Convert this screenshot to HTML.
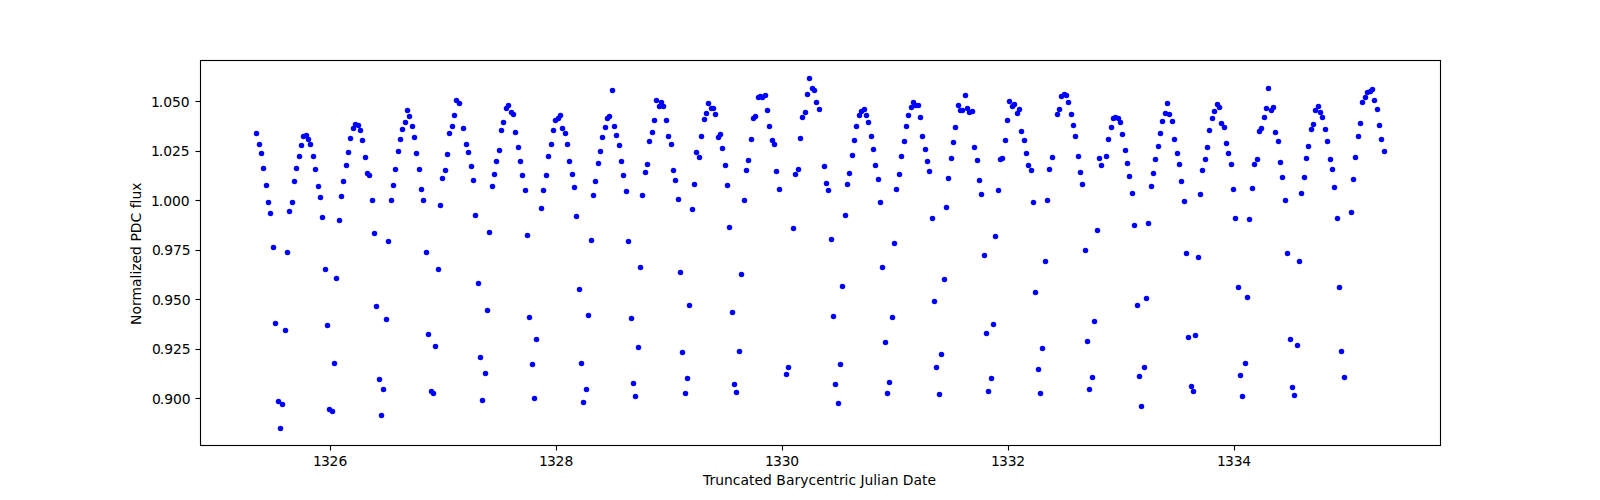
<!DOCTYPE html>
<html lang="en"><head><meta charset="utf-8"><title>Light curve</title>
<style>html,body{margin:0;padding:0;background:#fff;}body{width:1600px;height:500px;overflow:hidden;}</style></head>
<body>
<svg width="1600" height="500" viewBox="0 0 1600 500" style="display:block">
<rect width="1600" height="500" fill="#fff"/>
<g fill="#0000ff"><circle cx="256.5" cy="133.5" r="2.74"/><circle cx="259.5" cy="144.5" r="2.74"/><circle cx="261.5" cy="153.5" r="2.74"/><circle cx="263.5" cy="168.5" r="2.74"/><circle cx="266.5" cy="185.5" r="2.74"/><circle cx="268.5" cy="202.5" r="2.74"/><circle cx="270.5" cy="213.5" r="2.74"/><circle cx="273.5" cy="247.5" r="2.74"/><circle cx="275.5" cy="323.5" r="2.74"/><circle cx="278.5" cy="401.5" r="2.74"/><circle cx="280.5" cy="428.5" r="2.74"/><circle cx="282.5" cy="404.5" r="2.74"/><circle cx="285.5" cy="330.5" r="2.74"/><circle cx="287.5" cy="252.5" r="2.74"/><circle cx="289.5" cy="211.5" r="2.74"/><circle cx="292.5" cy="202.5" r="2.74"/><circle cx="294.5" cy="181.5" r="2.74"/><circle cx="296.5" cy="168.5" r="2.74"/><circle cx="299.5" cy="156.5" r="2.74"/><circle cx="301.5" cy="145.5" r="2.74"/><circle cx="303.5" cy="136.5" r="2.74"/><circle cx="306.5" cy="135.5" r="2.74"/><circle cx="308.5" cy="139.5" r="2.74"/><circle cx="310.5" cy="144.5" r="2.74"/><circle cx="313.5" cy="156.5" r="2.74"/><circle cx="315.5" cy="169.5" r="2.74"/><circle cx="318.5" cy="186.5" r="2.74"/><circle cx="320.5" cy="197.5" r="2.74"/><circle cx="322.5" cy="217.5" r="2.74"/><circle cx="325.5" cy="269.5" r="2.74"/><circle cx="327.5" cy="325.5" r="2.74"/><circle cx="329.5" cy="409.5" r="2.74"/><circle cx="332.5" cy="411.5" r="2.74"/><circle cx="334.5" cy="363.5" r="2.74"/><circle cx="336.5" cy="278.5" r="2.74"/><circle cx="339.5" cy="220.5" r="2.74"/><circle cx="341.5" cy="196.5" r="2.74"/><circle cx="343.5" cy="181.5" r="2.74"/><circle cx="346.5" cy="165.5" r="2.74"/><circle cx="348.5" cy="152.5" r="2.74"/><circle cx="350.5" cy="138.5" r="2.74"/><circle cx="353.5" cy="128.5" r="2.74"/><circle cx="355.5" cy="124.5" r="2.74"/><circle cx="358.5" cy="125.5" r="2.74"/><circle cx="360.5" cy="130.5" r="2.74"/><circle cx="362.5" cy="140.5" r="2.74"/><circle cx="365.5" cy="157.5" r="2.74"/><circle cx="367.5" cy="173.5" r="2.74"/><circle cx="369.5" cy="175.5" r="2.74"/><circle cx="372.5" cy="200.5" r="2.74"/><circle cx="374.5" cy="233.5" r="2.74"/><circle cx="376.5" cy="306.5" r="2.74"/><circle cx="379.5" cy="379.5" r="2.74"/><circle cx="381.5" cy="415.5" r="2.74"/><circle cx="383.5" cy="389.5" r="2.74"/><circle cx="386.5" cy="319.5" r="2.74"/><circle cx="388.5" cy="241.5" r="2.74"/><circle cx="391.5" cy="200.5" r="2.74"/><circle cx="393.5" cy="185.5" r="2.74"/><circle cx="395.5" cy="169.5" r="2.74"/><circle cx="398.5" cy="151.5" r="2.74"/><circle cx="400.5" cy="139.5" r="2.74"/><circle cx="402.5" cy="129.5" r="2.74"/><circle cx="405.5" cy="122.5" r="2.74"/><circle cx="407.5" cy="110.5" r="2.74"/><circle cx="409.5" cy="116.5" r="2.74"/><circle cx="412.5" cy="126.5" r="2.74"/><circle cx="414.5" cy="137.5" r="2.74"/><circle cx="416.5" cy="153.5" r="2.74"/><circle cx="419.5" cy="169.5" r="2.74"/><circle cx="421.5" cy="189.5" r="2.74"/><circle cx="423.5" cy="200.5" r="2.74"/><circle cx="426.5" cy="252.5" r="2.74"/><circle cx="428.5" cy="334.5" r="2.74"/><circle cx="431.5" cy="391.5" r="2.74"/><circle cx="433.5" cy="393.5" r="2.74"/><circle cx="435.5" cy="346.5" r="2.74"/><circle cx="438.5" cy="269.5" r="2.74"/><circle cx="440.5" cy="205.5" r="2.74"/><circle cx="442.5" cy="178.5" r="2.74"/><circle cx="445.5" cy="170.5" r="2.74"/><circle cx="447.5" cy="154.5" r="2.74"/><circle cx="449.5" cy="133.5" r="2.74"/><circle cx="452.5" cy="126.5" r="2.74"/><circle cx="454.5" cy="115.5" r="2.74"/><circle cx="456.5" cy="100.5" r="2.74"/><circle cx="459.5" cy="103.5" r="2.74"/><circle cx="463.5" cy="128.5" r="2.74"/><circle cx="466.5" cy="144.5" r="2.74"/><circle cx="468.5" cy="152.5" r="2.74"/><circle cx="471.5" cy="166.5" r="2.74"/><circle cx="473.5" cy="180.5" r="2.74"/><circle cx="475.5" cy="215.5" r="2.74"/><circle cx="478.5" cy="283.5" r="2.74"/><circle cx="480.5" cy="357.5" r="2.74"/><circle cx="482.5" cy="400.5" r="2.74"/><circle cx="485.5" cy="373.5" r="2.74"/><circle cx="487.5" cy="310.5" r="2.74"/><circle cx="489.5" cy="232.5" r="2.74"/><circle cx="492.5" cy="186.5" r="2.74"/><circle cx="494.5" cy="174.5" r="2.74"/><circle cx="496.5" cy="161.5" r="2.74"/><circle cx="499.5" cy="150.5" r="2.74"/><circle cx="501.5" cy="130.5" r="2.74"/><circle cx="503.5" cy="122.5" r="2.74"/><circle cx="506.5" cy="108.5" r="2.74"/><circle cx="508.5" cy="105.5" r="2.74"/><circle cx="511.5" cy="112.5" r="2.74"/><circle cx="513.5" cy="114.5" r="2.74"/><circle cx="515.5" cy="132.5" r="2.74"/><circle cx="518.5" cy="147.5" r="2.74"/><circle cx="520.5" cy="161.5" r="2.74"/><circle cx="522.5" cy="175.5" r="2.74"/><circle cx="525.5" cy="190.5" r="2.74"/><circle cx="527.5" cy="235.5" r="2.74"/><circle cx="529.5" cy="317.5" r="2.74"/><circle cx="532.5" cy="364.5" r="2.74"/><circle cx="534.5" cy="398.5" r="2.74"/><circle cx="536.5" cy="339.5" r="2.74"/><circle cx="541.5" cy="208.5" r="2.74"/><circle cx="543.5" cy="190.5" r="2.74"/><circle cx="546.5" cy="175.5" r="2.74"/><circle cx="548.5" cy="156.5" r="2.74"/><circle cx="551.5" cy="144.5" r="2.74"/><circle cx="553.5" cy="130.5" r="2.74"/><circle cx="555.5" cy="120.5" r="2.74"/><circle cx="558.5" cy="118.5" r="2.74"/><circle cx="560.5" cy="115.5" r="2.74"/><circle cx="562.5" cy="128.5" r="2.74"/><circle cx="565.5" cy="133.5" r="2.74"/><circle cx="567.5" cy="144.5" r="2.74"/><circle cx="569.5" cy="161.5" r="2.74"/><circle cx="572.5" cy="174.5" r="2.74"/><circle cx="574.5" cy="187.5" r="2.74"/><circle cx="576.5" cy="216.5" r="2.74"/><circle cx="579.5" cy="289.5" r="2.74"/><circle cx="581.5" cy="363.5" r="2.74"/><circle cx="583.5" cy="402.5" r="2.74"/><circle cx="586.5" cy="389.5" r="2.74"/><circle cx="588.5" cy="315.5" r="2.74"/><circle cx="591.5" cy="240.5" r="2.74"/><circle cx="593.5" cy="195.5" r="2.74"/><circle cx="595.5" cy="181.5" r="2.74"/><circle cx="598.5" cy="163.5" r="2.74"/><circle cx="600.5" cy="151.5" r="2.74"/><circle cx="602.5" cy="137.5" r="2.74"/><circle cx="605.5" cy="127.5" r="2.74"/><circle cx="607.5" cy="118.5" r="2.74"/><circle cx="609.5" cy="116.5" r="2.74"/><circle cx="612.5" cy="90.5" r="2.74"/><circle cx="614.5" cy="126.5" r="2.74"/><circle cx="616.5" cy="135.5" r="2.74"/><circle cx="619.5" cy="145.5" r="2.74"/><circle cx="621.5" cy="161.5" r="2.74"/><circle cx="623.5" cy="175.5" r="2.74"/><circle cx="626.5" cy="191.5" r="2.74"/><circle cx="628.5" cy="241.5" r="2.74"/><circle cx="631.5" cy="318.5" r="2.74"/><circle cx="633.5" cy="383.5" r="2.74"/><circle cx="635.5" cy="396.5" r="2.74"/><circle cx="638.5" cy="347.5" r="2.74"/><circle cx="640.5" cy="267.5" r="2.74"/><circle cx="642.5" cy="195.5" r="2.74"/><circle cx="645.5" cy="172.5" r="2.74"/><circle cx="647.5" cy="164.5" r="2.74"/><circle cx="649.5" cy="141.5" r="2.74"/><circle cx="652.5" cy="132.5" r="2.74"/><circle cx="654.5" cy="120.5" r="2.74"/><circle cx="656.5" cy="100.5" r="2.74"/><circle cx="659.5" cy="106.5" r="2.74"/><circle cx="661.5" cy="102.5" r="2.74"/><circle cx="663.5" cy="106.5" r="2.74"/><circle cx="666.5" cy="120.5" r="2.74"/><circle cx="668.5" cy="136.5" r="2.74"/><circle cx="671.5" cy="144.5" r="2.74"/><circle cx="673.5" cy="170.5" r="2.74"/><circle cx="675.5" cy="180.5" r="2.74"/><circle cx="678.5" cy="199.5" r="2.74"/><circle cx="680.5" cy="272.5" r="2.74"/><circle cx="682.5" cy="352.5" r="2.74"/><circle cx="685.5" cy="393.5" r="2.74"/><circle cx="687.5" cy="378.5" r="2.74"/><circle cx="689.5" cy="305.5" r="2.74"/><circle cx="692.5" cy="209.5" r="2.74"/><circle cx="694.5" cy="184.5" r="2.74"/><circle cx="696.5" cy="152.5" r="2.74"/><circle cx="699.5" cy="157.5" r="2.74"/><circle cx="701.5" cy="136.5" r="2.74"/><circle cx="704.5" cy="119.5" r="2.74"/><circle cx="706.5" cy="113.5" r="2.74"/><circle cx="708.5" cy="103.5" r="2.74"/><circle cx="711.5" cy="108.5" r="2.74"/><circle cx="713.5" cy="108.5" r="2.74"/><circle cx="715.5" cy="114.5" r="2.74"/><circle cx="718.5" cy="137.5" r="2.74"/><circle cx="720.5" cy="134.5" r="2.74"/><circle cx="722.5" cy="148.5" r="2.74"/><circle cx="725.5" cy="165.5" r="2.74"/><circle cx="727.5" cy="185.5" r="2.74"/><circle cx="729.5" cy="227.5" r="2.74"/><circle cx="732.5" cy="312.5" r="2.74"/><circle cx="734.5" cy="384.5" r="2.74"/><circle cx="736.5" cy="392.5" r="2.74"/><circle cx="739.5" cy="351.5" r="2.74"/><circle cx="741.5" cy="274.5" r="2.74"/><circle cx="744.5" cy="200.5" r="2.74"/><circle cx="746.5" cy="170.5" r="2.74"/><circle cx="748.5" cy="160.5" r="2.74"/><circle cx="751.5" cy="139.5" r="2.74"/><circle cx="753.5" cy="118.5" r="2.74"/><circle cx="755.5" cy="116.5" r="2.74"/><circle cx="758.5" cy="97.5" r="2.74"/><circle cx="760.5" cy="96.5" r="2.74"/><circle cx="762.5" cy="97.5" r="2.74"/><circle cx="765.5" cy="95.5" r="2.74"/><circle cx="767.5" cy="110.5" r="2.74"/><circle cx="769.5" cy="126.5" r="2.74"/><circle cx="772.5" cy="140.5" r="2.74"/><circle cx="774.5" cy="144.5" r="2.74"/><circle cx="776.5" cy="171.5" r="2.74"/><circle cx="779.5" cy="189.5" r="2.74"/><circle cx="786.5" cy="374.5" r="2.74"/><circle cx="788.5" cy="367.5" r="2.74"/><circle cx="793.5" cy="228.5" r="2.74"/><circle cx="795.5" cy="174.5" r="2.74"/><circle cx="798.5" cy="169.5" r="2.74"/><circle cx="800.5" cy="138.5" r="2.74"/><circle cx="802.5" cy="117.5" r="2.74"/><circle cx="805.5" cy="112.5" r="2.74"/><circle cx="807.5" cy="94.5" r="2.74"/><circle cx="809.5" cy="78.5" r="2.74"/><circle cx="812.5" cy="88.5" r="2.74"/><circle cx="814.5" cy="90.5" r="2.74"/><circle cx="816.5" cy="102.5" r="2.74"/><circle cx="819.5" cy="109.5" r="2.74"/><circle cx="824.5" cy="166.5" r="2.74"/><circle cx="826.5" cy="183.5" r="2.74"/><circle cx="828.5" cy="190.5" r="2.74"/><circle cx="831.5" cy="239.5" r="2.74"/><circle cx="833.5" cy="316.5" r="2.74"/><circle cx="835.5" cy="384.5" r="2.74"/><circle cx="838.5" cy="403.5" r="2.74"/><circle cx="840.5" cy="364.5" r="2.74"/><circle cx="842.5" cy="286.5" r="2.74"/><circle cx="845.5" cy="215.5" r="2.74"/><circle cx="847.5" cy="184.5" r="2.74"/><circle cx="849.5" cy="173.5" r="2.74"/><circle cx="852.5" cy="155.5" r="2.74"/><circle cx="854.5" cy="140.5" r="2.74"/><circle cx="856.5" cy="126.5" r="2.74"/><circle cx="859.5" cy="115.5" r="2.74"/><circle cx="861.5" cy="111.5" r="2.74"/><circle cx="864.5" cy="109.5" r="2.74"/><circle cx="866.5" cy="115.5" r="2.74"/><circle cx="868.5" cy="122.5" r="2.74"/><circle cx="871.5" cy="136.5" r="2.74"/><circle cx="873.5" cy="149.5" r="2.74"/><circle cx="875.5" cy="165.5" r="2.74"/><circle cx="878.5" cy="179.5" r="2.74"/><circle cx="880.5" cy="202.5" r="2.74"/><circle cx="882.5" cy="267.5" r="2.74"/><circle cx="885.5" cy="342.5" r="2.74"/><circle cx="887.5" cy="393.5" r="2.74"/><circle cx="889.5" cy="382.5" r="2.74"/><circle cx="892.5" cy="317.5" r="2.74"/><circle cx="894.5" cy="243.5" r="2.74"/><circle cx="896.5" cy="189.5" r="2.74"/><circle cx="899.5" cy="174.5" r="2.74"/><circle cx="901.5" cy="156.5" r="2.74"/><circle cx="904.5" cy="141.5" r="2.74"/><circle cx="906.5" cy="126.5" r="2.74"/><circle cx="908.5" cy="115.5" r="2.74"/><circle cx="911.5" cy="107.5" r="2.74"/><circle cx="913.5" cy="102.5" r="2.74"/><circle cx="915.5" cy="105.5" r="2.74"/><circle cx="918.5" cy="105.5" r="2.74"/><circle cx="920.5" cy="117.5" r="2.74"/><circle cx="922.5" cy="136.5" r="2.74"/><circle cx="925.5" cy="149.5" r="2.74"/><circle cx="927.5" cy="161.5" r="2.74"/><circle cx="929.5" cy="171.5" r="2.74"/><circle cx="932.5" cy="218.5" r="2.74"/><circle cx="934.5" cy="301.5" r="2.74"/><circle cx="936.5" cy="367.5" r="2.74"/><circle cx="939.5" cy="394.5" r="2.74"/><circle cx="941.5" cy="354.5" r="2.74"/><circle cx="944.5" cy="279.5" r="2.74"/><circle cx="946.5" cy="207.5" r="2.74"/><circle cx="948.5" cy="178.5" r="2.74"/><circle cx="951.5" cy="158.5" r="2.74"/><circle cx="953.5" cy="142.5" r="2.74"/><circle cx="955.5" cy="127.5" r="2.74"/><circle cx="958.5" cy="105.5" r="2.74"/><circle cx="960.5" cy="110.5" r="2.74"/><circle cx="962.5" cy="110.5" r="2.74"/><circle cx="965.5" cy="95.5" r="2.74"/><circle cx="967.5" cy="108.5" r="2.74"/><circle cx="969.5" cy="112.5" r="2.74"/><circle cx="972.5" cy="111.5" r="2.74"/><circle cx="974.5" cy="147.5" r="2.74"/><circle cx="977.5" cy="160.5" r="2.74"/><circle cx="979.5" cy="180.5" r="2.74"/><circle cx="981.5" cy="194.5" r="2.74"/><circle cx="984.5" cy="255.5" r="2.74"/><circle cx="986.5" cy="333.5" r="2.74"/><circle cx="988.5" cy="391.5" r="2.74"/><circle cx="991.5" cy="378.5" r="2.74"/><circle cx="993.5" cy="324.5" r="2.74"/><circle cx="995.5" cy="236.5" r="2.74"/><circle cx="998.5" cy="190.5" r="2.74"/><circle cx="1000.5" cy="159.5" r="2.74"/><circle cx="1002.5" cy="158.5" r="2.74"/><circle cx="1005.5" cy="140.5" r="2.74"/><circle cx="1007.5" cy="120.5" r="2.74"/><circle cx="1009.5" cy="101.5" r="2.74"/><circle cx="1012.5" cy="106.5" r="2.74"/><circle cx="1014.5" cy="104.5" r="2.74"/><circle cx="1017.5" cy="113.5" r="2.74"/><circle cx="1019.5" cy="109.5" r="2.74"/><circle cx="1021.5" cy="131.5" r="2.74"/><circle cx="1024.5" cy="140.5" r="2.74"/><circle cx="1026.5" cy="153.5" r="2.74"/><circle cx="1028.5" cy="165.5" r="2.74"/><circle cx="1031.5" cy="170.5" r="2.74"/><circle cx="1033.5" cy="202.5" r="2.74"/><circle cx="1035.5" cy="292.5" r="2.74"/><circle cx="1038.5" cy="369.5" r="2.74"/><circle cx="1040.5" cy="393.5" r="2.74"/><circle cx="1042.5" cy="348.5" r="2.74"/><circle cx="1045.5" cy="261.5" r="2.74"/><circle cx="1047.5" cy="200.5" r="2.74"/><circle cx="1049.5" cy="169.5" r="2.74"/><circle cx="1052.5" cy="157.5" r="2.74"/><circle cx="1057.5" cy="114.5" r="2.74"/><circle cx="1059.5" cy="109.5" r="2.74"/><circle cx="1061.5" cy="96.5" r="2.74"/><circle cx="1064.5" cy="94.5" r="2.74"/><circle cx="1066.5" cy="95.5" r="2.74"/><circle cx="1068.5" cy="102.5" r="2.74"/><circle cx="1071.5" cy="114.5" r="2.74"/><circle cx="1073.5" cy="125.5" r="2.74"/><circle cx="1075.5" cy="136.5" r="2.74"/><circle cx="1078.5" cy="156.5" r="2.74"/><circle cx="1080.5" cy="172.5" r="2.74"/><circle cx="1082.5" cy="184.5" r="2.74"/><circle cx="1085.5" cy="250.5" r="2.74"/><circle cx="1087.5" cy="341.5" r="2.74"/><circle cx="1089.5" cy="389.5" r="2.74"/><circle cx="1092.5" cy="377.5" r="2.74"/><circle cx="1094.5" cy="321.5" r="2.74"/><circle cx="1097.5" cy="230.5" r="2.74"/><circle cx="1099.5" cy="158.5" r="2.74"/><circle cx="1101.5" cy="165.5" r="2.74"/><circle cx="1106.5" cy="156.5" r="2.74"/><circle cx="1108.5" cy="139.5" r="2.74"/><circle cx="1111.5" cy="127.5" r="2.74"/><circle cx="1113.5" cy="118.5" r="2.74"/><circle cx="1115.5" cy="117.5" r="2.74"/><circle cx="1118.5" cy="118.5" r="2.74"/><circle cx="1120.5" cy="122.5" r="2.74"/><circle cx="1122.5" cy="134.5" r="2.74"/><circle cx="1125.5" cy="150.5" r="2.74"/><circle cx="1127.5" cy="163.5" r="2.74"/><circle cx="1129.5" cy="176.5" r="2.74"/><circle cx="1132.5" cy="193.5" r="2.74"/><circle cx="1134.5" cy="225.5" r="2.74"/><circle cx="1137.5" cy="305.5" r="2.74"/><circle cx="1139.5" cy="376.5" r="2.74"/><circle cx="1141.5" cy="406.5" r="2.74"/><circle cx="1144.5" cy="367.5" r="2.74"/><circle cx="1146.5" cy="298.5" r="2.74"/><circle cx="1148.5" cy="223.5" r="2.74"/><circle cx="1151.5" cy="186.5" r="2.74"/><circle cx="1153.5" cy="173.5" r="2.74"/><circle cx="1155.5" cy="159.5" r="2.74"/><circle cx="1158.5" cy="146.5" r="2.74"/><circle cx="1160.5" cy="133.5" r="2.74"/><circle cx="1162.5" cy="121.5" r="2.74"/><circle cx="1165.5" cy="113.5" r="2.74"/><circle cx="1167.5" cy="103.5" r="2.74"/><circle cx="1169.5" cy="114.5" r="2.74"/><circle cx="1172.5" cy="121.5" r="2.74"/><circle cx="1174.5" cy="139.5" r="2.74"/><circle cx="1177.5" cy="153.5" r="2.74"/><circle cx="1179.5" cy="164.5" r="2.74"/><circle cx="1181.5" cy="181.5" r="2.74"/><circle cx="1184.5" cy="201.5" r="2.74"/><circle cx="1186.5" cy="253.5" r="2.74"/><circle cx="1188.5" cy="337.5" r="2.74"/><circle cx="1191.5" cy="386.5" r="2.74"/><circle cx="1193.5" cy="391.5" r="2.74"/><circle cx="1195.5" cy="335.5" r="2.74"/><circle cx="1198.5" cy="257.5" r="2.74"/><circle cx="1200.5" cy="194.5" r="2.74"/><circle cx="1202.5" cy="170.5" r="2.74"/><circle cx="1205.5" cy="159.5" r="2.74"/><circle cx="1207.5" cy="147.5" r="2.74"/><circle cx="1209.5" cy="130.5" r="2.74"/><circle cx="1212.5" cy="118.5" r="2.74"/><circle cx="1214.5" cy="111.5" r="2.74"/><circle cx="1217.5" cy="104.5" r="2.74"/><circle cx="1219.5" cy="107.5" r="2.74"/><circle cx="1221.5" cy="123.5" r="2.74"/><circle cx="1224.5" cy="127.5" r="2.74"/><circle cx="1226.5" cy="143.5" r="2.74"/><circle cx="1228.5" cy="153.5" r="2.74"/><circle cx="1231.5" cy="164.5" r="2.74"/><circle cx="1233.5" cy="189.5" r="2.74"/><circle cx="1235.5" cy="218.5" r="2.74"/><circle cx="1238.5" cy="287.5" r="2.74"/><circle cx="1240.5" cy="375.5" r="2.74"/><circle cx="1242.5" cy="396.5" r="2.74"/><circle cx="1245.5" cy="363.5" r="2.74"/><circle cx="1247.5" cy="297.5" r="2.74"/><circle cx="1249.5" cy="219.5" r="2.74"/><circle cx="1252.5" cy="188.5" r="2.74"/><circle cx="1254.5" cy="164.5" r="2.74"/><circle cx="1257.5" cy="159.5" r="2.74"/><circle cx="1259.5" cy="131.5" r="2.74"/><circle cx="1261.5" cy="128.5" r="2.74"/><circle cx="1264.5" cy="117.5" r="2.74"/><circle cx="1266.5" cy="108.5" r="2.74"/><circle cx="1268.5" cy="88.5" r="2.74"/><circle cx="1271.5" cy="110.5" r="2.74"/><circle cx="1273.5" cy="107.5" r="2.74"/><circle cx="1275.5" cy="132.5" r="2.74"/><circle cx="1278.5" cy="141.5" r="2.74"/><circle cx="1280.5" cy="162.5" r="2.74"/><circle cx="1282.5" cy="177.5" r="2.74"/><circle cx="1285.5" cy="200.5" r="2.74"/><circle cx="1287.5" cy="253.5" r="2.74"/><circle cx="1290.5" cy="339.5" r="2.74"/><circle cx="1292.5" cy="387.5" r="2.74"/><circle cx="1294.5" cy="395.5" r="2.74"/><circle cx="1297.5" cy="345.5" r="2.74"/><circle cx="1299.5" cy="261.5" r="2.74"/><circle cx="1301.5" cy="193.5" r="2.74"/><circle cx="1304.5" cy="177.5" r="2.74"/><circle cx="1306.5" cy="158.5" r="2.74"/><circle cx="1308.5" cy="146.5" r="2.74"/><circle cx="1311.5" cy="129.5" r="2.74"/><circle cx="1313.5" cy="124.5" r="2.74"/><circle cx="1315.5" cy="110.5" r="2.74"/><circle cx="1318.5" cy="106.5" r="2.74"/><circle cx="1320.5" cy="112.5" r="2.74"/><circle cx="1322.5" cy="117.5" r="2.74"/><circle cx="1325.5" cy="129.5" r="2.74"/><circle cx="1327.5" cy="141.5" r="2.74"/><circle cx="1330.5" cy="159.5" r="2.74"/><circle cx="1332.5" cy="169.5" r="2.74"/><circle cx="1334.5" cy="187.5" r="2.74"/><circle cx="1337.5" cy="218.5" r="2.74"/><circle cx="1339.5" cy="287.5" r="2.74"/><circle cx="1341.5" cy="351.5" r="2.74"/><circle cx="1344.5" cy="377.5" r="2.74"/><circle cx="1351.5" cy="212.5" r="2.74"/><circle cx="1353.5" cy="179.5" r="2.74"/><circle cx="1355.5" cy="157.5" r="2.74"/><circle cx="1358.5" cy="136.5" r="2.74"/><circle cx="1360.5" cy="123.5" r="2.74"/><circle cx="1362.5" cy="102.5" r="2.74"/><circle cx="1365.5" cy="97.5" r="2.74"/><circle cx="1367.5" cy="92.5" r="2.74"/><circle cx="1370.5" cy="91.5" r="2.74"/><circle cx="1372.5" cy="89.5" r="2.74"/><circle cx="1374.5" cy="100.5" r="2.74"/><circle cx="1377.5" cy="109.5" r="2.74"/><circle cx="1379.5" cy="125.5" r="2.74"/><circle cx="1381.5" cy="139.5" r="2.74"/><circle cx="1384.5" cy="151.5" r="2.74"/></g>
<g stroke="#000" stroke-width="1.11" fill="none">
<rect x="200.5" y="60.5" width="1240" height="385"/>
<line x1="330.5" y1="445.5" x2="330.5" y2="450.5"/>
<line x1="556.5" y1="445.5" x2="556.5" y2="450.5"/>
<line x1="782.5" y1="445.5" x2="782.5" y2="450.5"/>
<line x1="1008.5" y1="445.5" x2="1008.5" y2="450.5"/>
<line x1="1234.5" y1="445.5" x2="1234.5" y2="450.5"/>
<line x1="195.5" y1="101.5" x2="200" y2="101.5"/>
<line x1="195.5" y1="151.5" x2="200" y2="151.5"/>
<line x1="195.5" y1="200.5" x2="200" y2="200.5"/>
<line x1="195.5" y1="250.5" x2="200" y2="250.5"/>
<line x1="195.5" y1="299.5" x2="200" y2="299.5"/>
<line x1="195.5" y1="349.5" x2="200" y2="349.5"/>
<line x1="195.5" y1="398.5" x2="200" y2="398.5"/>
</g>
<g font-family="'DejaVu Sans', sans-serif" font-size="13.889px" fill="#000" style="font-variant-ligatures:none;font-kerning:none">
<text x="313.09 320.91 329.48 338.56" y="465.50">1326</text>
<text x="539.09 546.91 555.48 564.56" y="465.50">1328</text>
<text x="765.09 772.91 781.73 790.31" y="465.50">1330</text>
<text x="991.09 998.91 1007.73 1016.31" y="465.50">1332</text>
<text x="1217.09 1224.91 1233.73 1242.31" y="465.50">1334</text>
<text x="151.07 158.63 163.30 171.88 180.71" y="106.80">1.050</text>
<text x="151.07 158.63 163.30 171.88 180.71" y="155.80">1.025</text>
<text x="151.07 158.63 163.30 171.88 180.71" y="205.80">1.000</text>
<text x="152.07 159.63 164.30 172.88 181.71" y="254.80">0.975</text>
<text x="152.07 159.63 164.30 172.88 181.71" y="304.80">0.950</text>
<text x="152.07 159.63 164.30 172.88 181.71" y="353.80">0.925</text>
<text x="152.07 159.63 164.30 172.88 181.71" y="403.80">0.900</text>
<text x="703.02 709.45 715.15 723.95 732.74 740.62 749.12 754.57 763.10 771.91 776.32 786.09 794.59 800.29 808.51 816.13 824.66 833.46 838.90 844.60 848.46 855.84 860.51 864.60 873.13 876.99 881.10 889.85 898.15 902.80 913.49 921.99 927.43" y="484.80">Truncated Barycentric Julian Date</text>
<text transform="translate(140.70,254.00) rotate(-90)" x="-71.00 -60.62 -51.89 -46.42 -32.91 -24.41 -20.56 -16.70 -9.42 -1.12 7.67 12.59 20.70 31.64 40.83 45.73 50.62 54.47 63.27" y="0.00">Normalized PDC flux</text>
</g></svg>
</body></html>
